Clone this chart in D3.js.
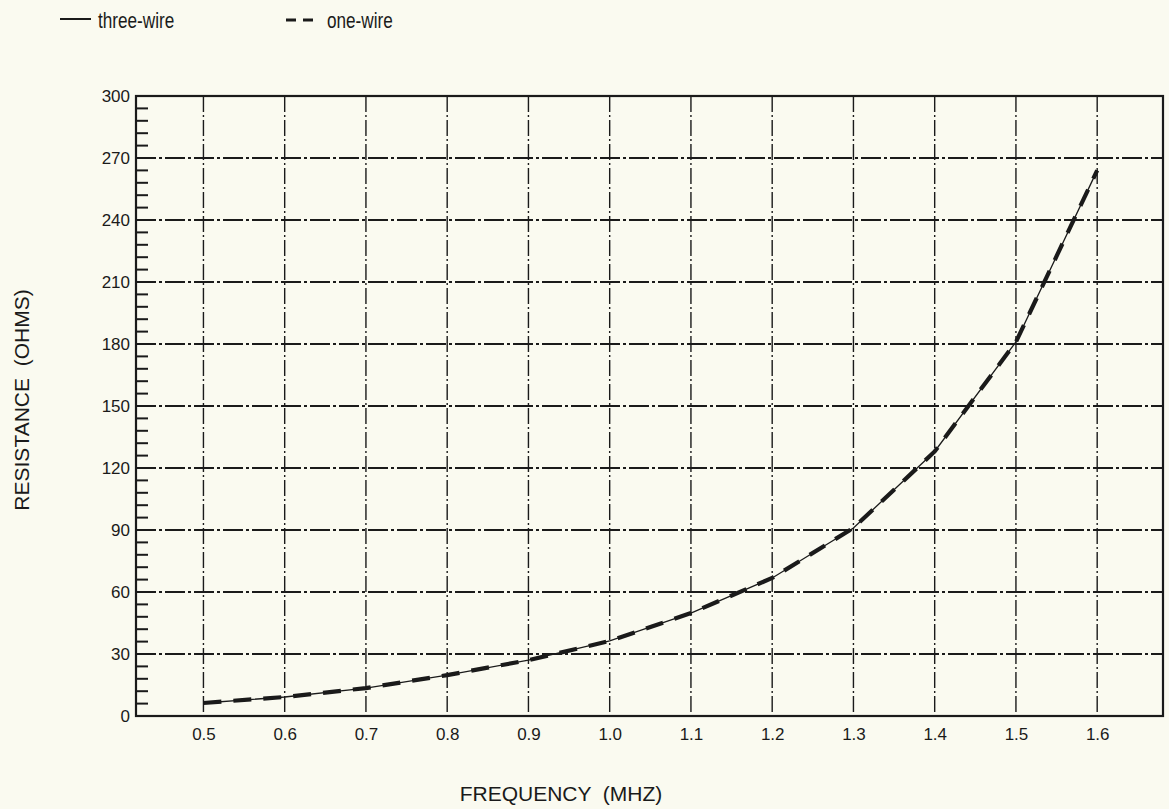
<!DOCTYPE html>
<html><head><meta charset="utf-8">
<script src="https://cdn.jsdelivr.net/npm/d3@7"></script>
<style>body{margin:0;background:#fafaf0;}svg{display:block;}</style>
</head><body>
<script>
const freq = [0.5,0.6,0.7,0.8,0.9,1.0,1.1,1.2,1.3,1.4,1.5,1.6];
const threeWire = [6.3,9.2,13.5,19.8,27,36.3,49.8,66.8,91,128,181,264];
const oneWire   = [6.3,9.2,13.5,19.8,27,36.3,49.8,66.8,91,128,181,264];
const xTicks = [0.5,0.6,0.7,0.8,0.9,1.0,1.1,1.2,1.3,1.4,1.5,1.6];
const xTickLabels = ["0.5","0.6","0.7","0.8","0.9","1.0","1.1","1.2","1.3","1.4","1.5","1.6"];
const yTicks = [0,30,60,90,120,150,180,210,240,270,300];

const W=1169,H=809;
const svg=d3.select("body").append("svg").attr("width",W).attr("height",H);
svg.append("rect").attr("width",W).attr("height",H).attr("fill","#fafaf0");
const L=136,R=1163,T=96,B=716;
const x=d3.scaleLinear().domain([0.417,1.681]).range([L,R]);
const y=d3.scaleLinear().domain([0,300]).range([B,T]);
const ink="#1a1a1a";
const font="'Liberation Sans', Arial, sans-serif";

// grid
const g=svg.append("g");
g.selectAll(".gx").data(xTicks).enter().append("line")
 .attr("x1",d=>x(d)).attr("x2",d=>x(d)).attr("y1",T).attr("y2",B)
 .attr("stroke",ink).attr("stroke-width",1.4).attr("stroke-dasharray","16,3,2,3");
g.selectAll(".gy").data(yTicks.filter(d=>d>0&&d<300)).enter().append("line")
 .attr("x1",L).attr("x2",R).attr("y1",d=>y(d)).attr("y2",d=>y(d))
 .attr("stroke",ink).attr("stroke-width",1.8).attr("stroke-dasharray","20,3,3,3");

// minor y ticks
const minor=d3.range(0,301,6).filter(d=>d%30!==0);
g.selectAll(".my").data(minor).enter().append("line")
 .attr("x1",L).attr("x2",L+12).attr("y1",d=>y(d)).attr("y2",d=>y(d))
 .attr("stroke",ink).attr("stroke-width",2);
g.selectAll(".My").data(yTicks).enter().append("line")
 .attr("x1",L).attr("x2",L+14).attr("y1",d=>y(d)).attr("y2",d=>y(d))
 .attr("stroke",ink).attr("stroke-width",2);

// frame
svg.append("rect").attr("x",L).attr("y",T).attr("width",R-L).attr("height",B-T)
 .attr("fill","none").attr("stroke",ink).attr("stroke-width",2.2);

// axes labels
const yAxis=d3.axisLeft(y).tickValues(yTicks).tickSize(0).tickPadding(6);
const ya=svg.append("g").attr("transform",`translate(${L},0)`).call(yAxis);
ya.select(".domain").remove();
ya.selectAll("text").attr("font-family",font).attr("font-size",17).attr("fill",ink);

const xAxis=d3.axisBottom(x).tickValues(xTicks).tickFormat((d,i)=>xTickLabels[i]).tickSize(0).tickPadding(12);
const xa=svg.append("g").attr("transform",`translate(0,${B})`).call(xAxis);
xa.select(".domain").remove();
xa.selectAll("text").attr("font-family",font).attr("font-size",17).attr("fill",ink);

// lines
const data3=freq.map((f,i)=>[f,threeWire[i]]);
const data1=freq.map((f,i)=>[f,oneWire[i]]);
const line=d3.line().x(d=>x(d[0])).y(d=>y(d[1]));
svg.append("path").datum(data3).attr("d",line).attr("fill","none")
 .attr("stroke",ink).attr("stroke-width",1.3);
svg.append("path").datum(data1).attr("d",line).attr("fill","none")
 .attr("stroke",ink).attr("stroke-width",4.2).attr("stroke-dasharray","18,12");

// titles
svg.append("text").attr("x",561).attr("y",801).attr("text-anchor","middle")
 .attr("font-family",font).attr("font-size",21).attr("fill",ink).attr("xml:space","preserve")
 .text("FREQUENCY  (MHZ)");
svg.append("text").attr("transform",`translate(29,400) rotate(-90)`).attr("text-anchor","middle")
 .attr("font-family",font).attr("font-size",21).attr("fill",ink).attr("xml:space","preserve")
 .text("RESISTANCE  (OHMS)");

// legend
svg.append("line").attr("x1",60).attr("x2",91).attr("y1",19).attr("y2",19)
 .attr("stroke",ink).attr("stroke-width",2);
svg.append("text").attr("transform","translate(98,28) scale(0.78,1)").attr("font-family",font).attr("font-size",22)
 .attr("fill",ink).text("three-wire");
svg.append("line").attr("x1",286).attr("x2",313).attr("y1",20).attr("y2",20)
 .attr("stroke",ink).attr("stroke-width",3).attr("stroke-dasharray","10,7");
svg.append("text").attr("transform","translate(327,28) scale(0.78,1)").attr("font-family",font).attr("font-size",22)
 .attr("fill",ink).text("one-wire");
</script>
</body></html>
